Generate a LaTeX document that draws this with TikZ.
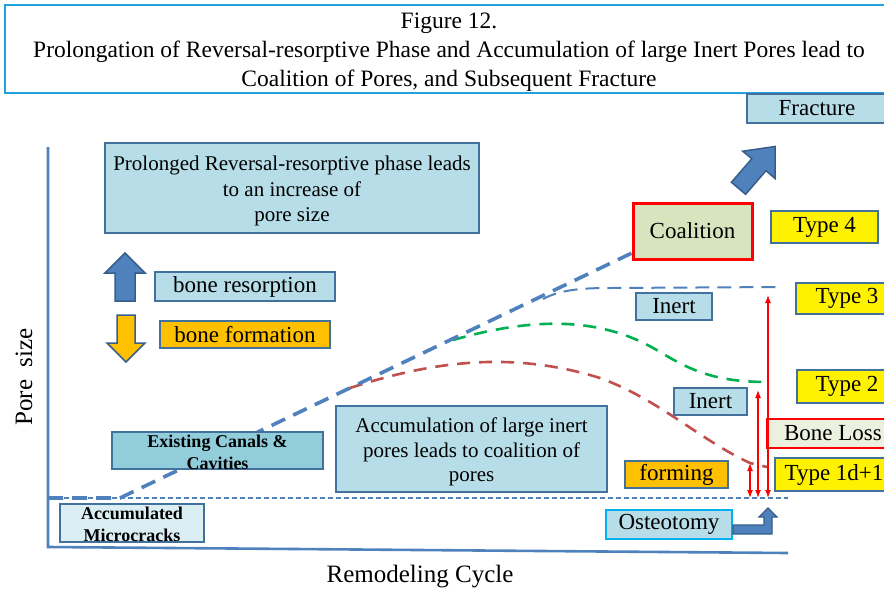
\documentclass[tikz,border=0pt]{standalone}
\usepackage{fontspec}
\setmainfont{Liberation Serif}
\usetikzlibrary{arrows.meta,calc}
\definecolor{lblue}{HTML}{B7DEE8}
\definecolor{bord}{HTML}{41719C}
\definecolor{abl}{HTML}{4F81BD}
\definecolor{abd}{HTML}{385D8A}
\definecolor{tbord}{HTML}{1FA3E0}
\definecolor{coalf}{HTML}{D7E4BD}
\definecolor{orng}{HTML}{FFC000}
\definecolor{blf}{HTML}{EBF1DE}
\definecolor{ecf}{HTML}{92CDDC}
\definecolor{amf}{HTML}{DBEEF4}
\definecolor{grn}{HTML}{00B050}
\definecolor{rdc}{HTML}{C0504D}
\definecolor{ostb}{HTML}{00B0F0}
\begin{document}
\begin{tikzpicture}[x=1pt,y=-1pt,
  bx/.style={draw=bord, line width=1.8pt, inner sep=0pt, align=center, font=\fontsize{23}{27}\selectfont},
  lb/.style={bx, fill=lblue},
  yb/.style={bx, fill=yellow},
  txtbox/.style={bx, fill=lblue, font=\fontsize{21}{25.5}\selectfont},
  plain/.style={align=center, inner sep=0pt},
  boldtext/.style={plain, font=\fontsize{18}{21.5}\selectfont\bfseries},
  blockarrow/.style={fill=abl, draw=abd, line width=1.5pt, line join=miter},
  redarr/.style={red, line width=1.3pt, {Latex[length=8pt,width=6pt]}-{Latex[length=8pt,width=6pt]}},
  axis/.style={abl, line width=2.6pt},
  curve/.style={line width=2.6pt, dash pattern=on 13pt off 9pt}
]
\useasboundingbox (0,0) rectangle (884,592);

% title
\node[draw=tbord, line width=1.5pt, minimum width=886pt, minimum height=88pt, inner sep=0pt] (title) at (448,49) {};
\node[plain, font=\fontsize{23.5}{29}\selectfont] (ttext) at (449,52)
  {Figure 12.\\Prolongation of Reversal-resorptive Phase and Accumulation of large Inert Pores lead to\\Coalition of Pores, and Subsequent Fracture};

% axes
\coordinate (yt) at (48,147);
\coordinate (org) at (48,547);
\coordinate (xe) at (788,553);
\draw[axis] (yt) -- (org) -- (xe);
\node[font=\fontsize{25}{29}\selectfont, rotate=90] (ylab) at (24,377) {Pore\ \ size};
\node[font=\fontsize{25}{29}\selectfont] (xlab) at (420,577) {Remodeling Cycle};

% baseline
\coordinate (b0) at (48,498);
\coordinate (b1) at (788,498);
\draw[abl, line width=1.3pt, dash pattern=on 5pt off 3pt] (b0) -- (b1);

% curves (behind the boxes)
\coordinate (k0) at (48,498);
\coordinate (k1) at (120,498);
\coordinate (k2) at (634,252);
\coordinate (g0) at (453,340);
\coordinate (g1) at (660,352);
\coordinate (g2) at (767,382);
\coordinate (r0) at (350,388);
\coordinate (r1) at (600,378);
\coordinate (r2) at (750,463);
\coordinate (r3) at (767,467);
\coordinate (s0) at (543,299);
\coordinate (s1) at (610,288);
\coordinate (s2) at (783,287);
\draw[curve, abl, line width=2pt, dash pattern=on 14pt off 8pt] (s0) .. controls (560,290) and (580,288) .. (s1) -- (s2);
\draw[curve, grn] (g0) .. controls (530,318) and (600,315) .. (g1) .. controls (690,370) and (715,382) .. (g2);
\draw[curve, rdc] (r0) .. controls (430,362) and (510,350) .. (r1) .. controls (660,400) and (700,440) .. (r2) -- (r3);
\draw[abl, line width=3.6pt, dash pattern=on 15pt off 9pt] (k0) -- (k1) -- (k2);

% boxes
\node[txtbox, minimum width=374pt, minimum height=90pt] (top) at (292,188) {};
\node[plain, font=\fontsize{21}{25.5}\selectfont] (toptext) at (292,191)
  {Prolonged Reversal-resorptive phase leads\\to an increase of\\pore size};
\node[lb, minimum width=180pt, minimum height=29pt] (bres) at (245,286.5) {bone resorption};
\node[bx, fill=orng, minimum width=170pt, minimum height=27pt] (bform) at (245,334.5) {bone formation};
\node[bx, fill=ecf, minimum width=211pt, minimum height=37pt] (exist) at (217.5,450.5) {};
\node[boldtext] (existtext) at (217.5,452.5) {Existing Canals \&\\Cavities};
\node[bx, fill=amf, minimum width=144pt, minimum height=38pt] (micro) at (132,523) {};
\node[boldtext] (microtext) at (132,524.5) {Accumulated\\Microcracks};
\node[txtbox, minimum width=271pt, minimum height=86pt] (accum) at (471.5,449) {};
\node[plain, font=\fontsize{21}{24.5}\selectfont] (acctext) at (471.5,452)
  {Accumulation of large inert\\pores leads to coalition of\\pores};

\node[lb, minimum width=140pt, minimum height=29pt] (frac) at (817,108.5) {Fracture};
\node[bx, fill=coalf, draw=red, line width=3pt, minimum width=119pt, minimum height=56pt] (coal) at (692.5,231) {Coalition};
\node[yb, minimum width=107pt, minimum height=32pt] (t4) at (824.5,227) {Type 4};
\node[yb, minimum width=102pt, minimum height=31pt] (t3) at (847,298.5) {Type 3};
\node[yb, minimum width=100pt, minimum height=33pt] (t2) at (847,386.5) {Type 2};
\node[bx, fill=blf, draw=red, line width=1.5pt, minimum width=132pt, minimum height=29pt] (bl) at (833,433.5) {Bone Loss};
\node[yb, minimum width=118pt, minimum height=33pt] (t1) at (834,474.5) {Type 1d+1};
\node[lb, minimum width=76pt, minimum height=27pt] (in1) at (674,306.5) {Inert};
\node[lb, minimum width=73pt, minimum height=27pt] (in2) at (710.5,401.5) {Inert};
\node[bx, fill=orng, minimum width=103pt, minimum height=27pt] (form) at (676.5,474.5) {forming};
\node[lb, draw=ostb, minimum width=126pt, minimum height=29pt] (ost) at (669,524.5) {Osteotomy};

% block arrows
\draw[blockarrow] (115,301) -- (115,273) -- (105,273) -- (125,253) -- (145,273) -- (135,273) -- (135,301) -- cycle;
\draw[blockarrow, fill=orng] (117,315) -- (135,315) -- (135,343) -- (145,343) -- (126,362) -- (107,343) -- (117,343) -- cycle;
\draw[blockarrow] (731.4,182.3) -- (751.8,158.7) -- (742.7,151.2) -- (775,146.5) -- (775.1,178.5) -- (766,170.7) -- (745.6,194.3) -- cycle;
\draw[blockarrow, line width=1.2pt] (ost.east |- 0,525) -- (764,525) -- (764,517) -- (759,517) -- (768,508) -- (777,517) -- (772,517) -- (772,534) -- (ost.east |- 0,534) -- cycle;

% red arrows
\coordinate (a1t) at (750,463);
\coordinate (a1b) at (750,498);
\coordinate (a2t) at (758,390);
\coordinate (a2b) at (758,498);
\coordinate (a3t) at (768,295);
\coordinate (a3b) at (768,498);
\draw[redarr] (a1t) -- (a1b);
\draw[redarr] (a2t) -- (a2b);
\draw[redarr] (a3t) -- (a3b);
\end{tikzpicture}
\end{document}
